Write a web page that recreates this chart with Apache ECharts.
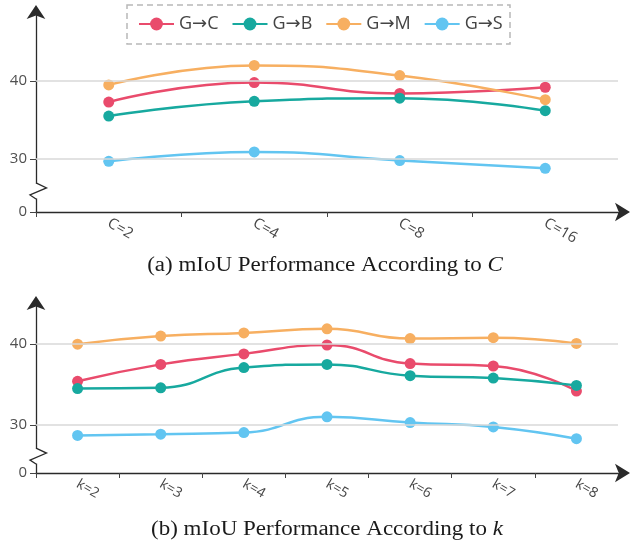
<!DOCTYPE html>
<html><head><meta charset="utf-8">
<script src="https://cdn.jsdelivr.net/npm/echarts@6/dist/echarts.min.js"></script>
<style>html,body{margin:0;padding:0;background:#fff}#c{width:631px;height:545px}</style>
</head><body><div id="c"></div>
<script>
const seriesNames = ['G→C', 'G→B', 'G→M', 'G→S'];
const colors = ['#e94b6c', '#17a99f', '#f7af61', '#62c5f1'];

const cCategories = ['C=2', 'C=4', 'C=8', 'C=16'];
const cGC = [37.3, 39.8, 38.4, 39.2];
const cGB = [35.5, 37.4, 37.8, 36.2];
const cGM = [39.5, 42.0, 40.7, 37.6];
const cGS = [29.7, 30.9, 29.8, 28.8];

const kCategories = ['k=2', 'k=3', 'k=4', 'k=5', 'k=6', 'k=7', 'k=8'];
const kGC = [35.4, 37.5, 38.8, 39.9, 37.6, 37.3, 34.2];
const kGB = [34.5, 34.6, 37.1, 37.5, 36.1, 35.8, 34.9];
const kGM = [40.0, 41.0, 41.4, 41.9, 40.7, 40.8, 40.1];
const kGS = [28.7, 28.85, 29.05, 31.0, 30.3, 29.75, 28.3];

// broken axis: first tick value stands for the origin, shown as "0"
const yTicksTop = [23.2, 30, 40];
const yTicksBottom = [24.05, 30, 40];
const yTickLabels = ['0', '30', '40'];
const gridLineValues = [30, 40];
const breakTop = 25.9, breakBottom = 26.15;

const FONT = "'Open Sans', 'DejaVu Sans'";
const GRID_LEFT = 36, GRID_RIGHT = 13;

function yAxis(gi, ticks, max) {
  return {
    type: 'value', gridIndex: gi, min: ticks[0], max: max,
    axisLine: { show: true, symbol: ['none', 'arrow'], symbolSize: [14, 14], symbolOffset: [0, 7],
      lineStyle: { color: '#2a2a2a', width: 1.3 } },
    axisTick: { show: true, customValues: ticks, length: 6, lineStyle: { color: '#444', width: 1 } },
    axisLabel: { customValues: ticks, showMinLabel: true, margin: 9, color: '#505050', fontSize: 15, fontFamily: FONT,
      formatter: v => yTickLabels[ticks.indexOf(v)] !== undefined ? yTickLabels[ticks.indexOf(v)] : '' },
    splitLine: { show: false }
  };
}
function xAxis(gi, cats, fs) {
  return {
    type: 'category', gridIndex: gi, data: cats, boundaryGap: true,
    axisLine: { show: true, symbol: ['none', 'arrow'], symbolSize: [14, 15], symbolOffset: [0, 12],
      lineStyle: { color: '#2a2a2a', width: 1.3 } },
    axisTick: { show: true, length: 5, lineStyle: { color: '#444', width: 1 } },
    axisLabel: { rotate: -30, margin: 10, color: '#454545', fontSize: fs, fontFamily: FONT, interval: 0 },
    splitLine: { show: false }
  };
}
function lineSeries(name, idx, data, gi) {
  return {
    name: name, type: 'line', xAxisIndex: gi, yAxisIndex: gi, data: data,
    smooth: 0.5, symbol: 'circle', symbolSize: 11, z: 3,
    lineStyle: { width: 2.5, color: colors[idx] },
    itemStyle: { color: colors[idx] }
  };
}
function gridLines(gi) {
  return {
    name: 'grid' + gi, type: 'line', xAxisIndex: gi, yAxisIndex: gi, data: [], z: 1,
    markLine: { silent: true, symbol: ['none', 'none'], label: { show: false },
      lineStyle: { color: '#d8d8d8', type: 'solid', width: 1.5 },
      emphasis: { disabled: true },
      data: gridLineValues.map(v => ({ yAxis: v })) }
  };
}

const topData = [cGC, cGB, cGM, cGS];
const botData = [kGC, kGB, kGM, kGS];
const series = [gridLines(0), gridLines(1)];
seriesNames.forEach((n, i) => series.push(lineSeries(n, i, topData[i], 0)));
seriesNames.forEach((n, i) => series.push(lineSeries(n, i, botData[i], 1)));

const chart = echarts.init(document.getElementById('c'), null, { renderer: 'canvas' });
const option = {
  animation: false,
  backgroundColor: '#fff',
  color: colors,
  grid: [
    { left: GRID_LEFT, right: GRID_RIGHT, top: 12, height: 200 },
    { left: GRID_LEFT, right: GRID_RIGHT, top: 303, height: 170 }
  ],
  xAxis: [xAxis(0, cCategories, 15), xAxis(1, kCategories, 14)],
  yAxis: [yAxis(0, yTicksTop, 48.85), yAxis(1, yTicksBottom, 45.1)],
  legend: {
    data: seriesNames, left: 127, top: 5, z: 10,
    itemWidth: 35, itemHeight: 16, itemGap: 13,
    padding: [10, 10, 10, 11],
    textStyle: { fontSize: 18, color: '#444', fontFamily: FONT },
    selectedMode: false
  },
  series: series
};
chart.setOption(option);

function zigzag(yAxisIndex, val) {
  const yc = chart.convertToPixel({ yAxisIndex: yAxisIndex }, val);
  const x = GRID_LEFT;
  return [
    { type: 'rect', z: 20, shape: { x: x - 2.5, y: yc - 7.5, width: 5, height: 15 }, style: { fill: '#fff' } },
    { type: 'polyline', z: 21, shape: { points: [[x, yc - 8], [x + 10.5, yc - 3], [x - 6, yc + 4], [x, yc + 8]] },
      style: { stroke: '#2a2a2a', lineWidth: 1.3, fill: null } }
  ];
}
const captionStyle = { fontSize: 20, fontFamily: 'Liberation Serif', fill: '#1a1a1a' };
const captionRich = { i: { fontStyle: 'italic', fontSize: 20, fontFamily: 'Liberation Serif' } };
chart.setOption({
  graphic: [
    { type: 'rect', z: 5, shape: { x: 127, y: 5, width: 383, height: 39 },
      style: { fill: '#fff', stroke: '#b8b8b8', lineWidth: 1.5, lineDash: [6, 4] } },
    ...zigzag(0, breakTop),
    ...zigzag(1, breakBottom),
    { type: 'text', x: 325, y: 266, scaleX: 1.15, style: Object.assign({
        text: '(a) mIoU Performance According to {i|C}', align: 'center', verticalAlign: 'middle',
        rich: captionRich }, captionStyle) },
    { type: 'text', x: 327, y: 530, scaleX: 1.15, style: Object.assign({
        text: '(b) mIoU Performance According to {i|k}', align: 'center', verticalAlign: 'middle',
        rich: captionRich }, captionStyle) }
  ]
});
</script></body></html>
